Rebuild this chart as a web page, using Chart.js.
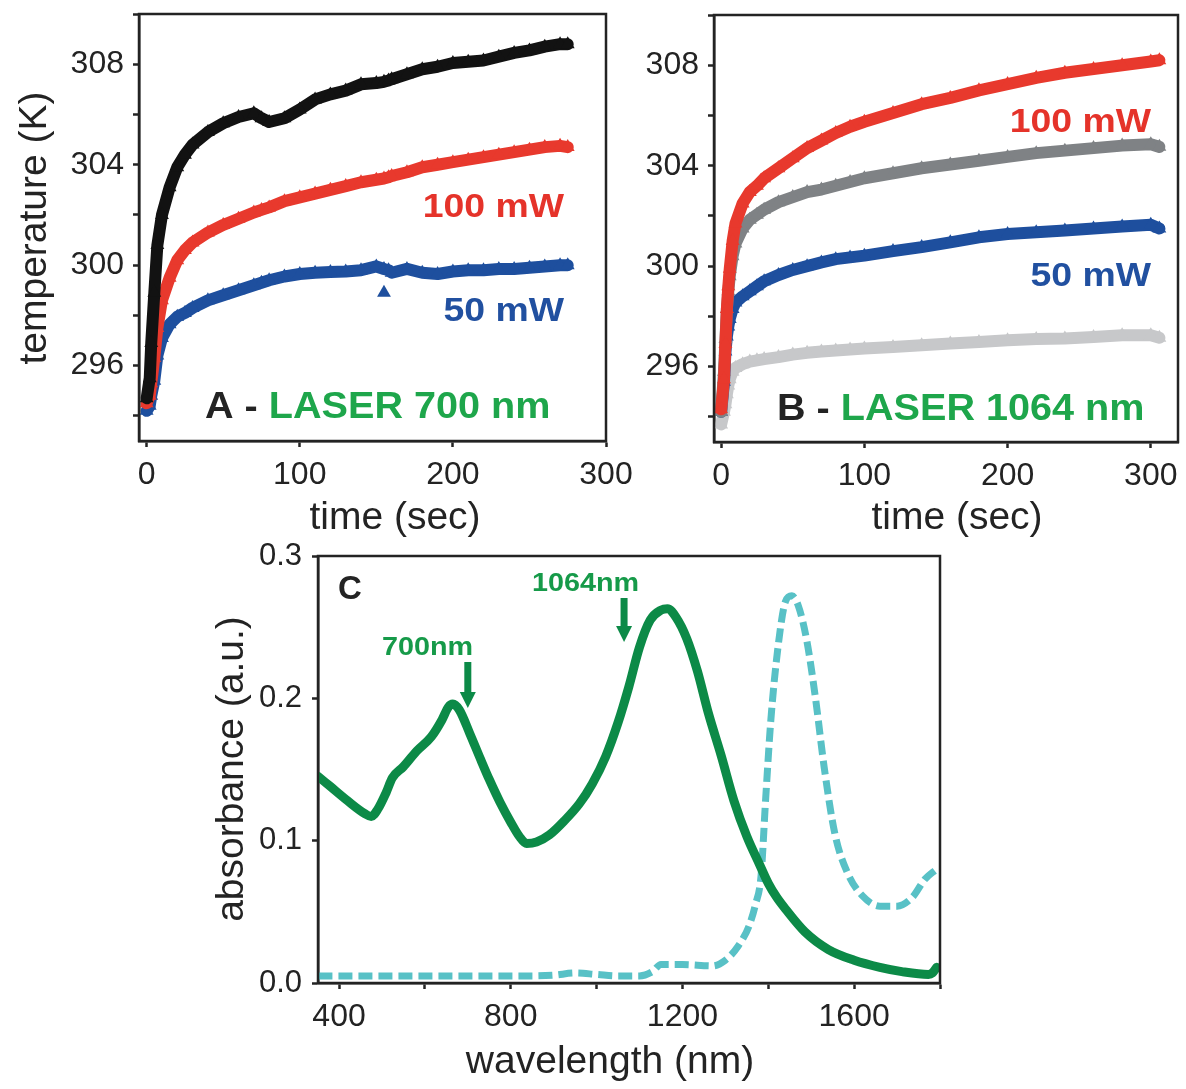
<!DOCTYPE html>
<html>
<head>
<meta charset="utf-8">
<script src="https://cdn.jsdelivr.net/npm/chart.js@4.4.1/dist/chart.umd.min.js"></script>
<style>
  html, body { margin: 0; padding: 0; background: #ffffff; }
  body { width: 1186px; height: 1089px; position: relative; overflow: hidden; }
  canvas { position: absolute; }
  #panelA { left: 0px; top: 0px; }
  #panelB { left: 620px; top: 0px; }
  #panelC { left: 180px; top: 540px; }
</style>
</head>
<body>
<canvas id="panelA" width="640" height="540"></canvas>
<canvas id="panelB" width="566" height="540"></canvas>
<canvas id="panelC" width="780" height="549"></canvas>
<script>
// ---- Panel A: heating under the 700 nm laser (time in s, temperature in K)
const timeA = [0, 2, 3, 5, 7, 10, 15, 20, 25, 30, 40, 50, 60, 70, 75, 80, 90, 100, 110, 120,
  130, 140, 150, 155, 158, 160, 170, 180, 190, 200, 210, 220, 230, 240, 250, 260, 270, 275];
const blackA = [294.7, 295.5, 296.9, 298.9, 300.8, 302.0, 303.1, 303.9, 304.4, 304.8, 305.3, 305.65,
  305.9, 306.05, 305.85, 305.7, 305.85, 306.2, 306.6, 306.8, 306.95, 307.2, 307.25, 307.3, 307.35,
  307.4, 307.6, 307.8, 307.9, 308.05, 308.1, 308.15, 308.3, 308.45, 308.55, 308.7, 308.8, 308.8];
const redA = [294.5, 294.8, 295.3, 296.3, 297.5, 298.6, 299.5, 300.2, 300.6, 300.9, 301.3, 301.6,
  301.85, 302.1, 302.2, 302.3, 302.55, 302.7, 302.85, 303.0, 303.15, 303.3, 303.4, 303.45, 303.5,
  303.55, 303.7, 303.9, 304.0, 304.1, 304.2, 304.3, 304.4, 304.5, 304.6, 304.7, 304.75, 304.7];
const blueA = [294.2, 294.4, 294.8, 295.4, 296.4, 297.1, 297.65, 297.95, 298.1, 298.3, 298.6, 298.8,
  299.0, 299.2, 299.3, 299.4, 299.55, 299.65, 299.7, 299.73, 299.75, 299.8, 299.95, 299.85, 299.8,
  299.7, 299.85, 299.7, 299.65, 299.75, 299.8, 299.8, 299.85, 299.85, 299.9, 299.95, 300.0, 300.0];
const blueAStrayTime = [155];
const blueAStrayTemp = [298.9];

// ---- Panel B: heating under the 1064 nm laser
const timeB = [0, 2, 3, 4, 5, 6, 8, 10, 15, 20, 25, 30, 40, 50, 60, 70, 80, 90, 100, 120,
  140, 160, 180, 200, 220, 240, 260, 280, 300, 306];
const redB = [294.3, 295.5, 296.9, 298.3, 299.2, 299.9, 301.0, 301.7, 302.5, 302.95, 303.2, 303.5,
  303.9, 304.3, 304.7, 305.0, 305.3, 305.55, 305.75, 306.1, 306.45, 306.7, 307.0, 307.25, 307.5,
  307.7, 307.85, 308.0, 308.15, 308.2];
const grayB = [294.2, 295.8, 297.1, 298.3, 299.0, 299.6, 300.4, 300.9, 301.5, 301.85, 302.05, 302.25,
  302.55, 302.75, 302.95, 303.05, 303.2, 303.35, 303.5, 303.7, 303.9, 304.05, 304.2, 304.35, 304.5,
  304.6, 304.7, 304.8, 304.85, 304.75];
const blueB = [294.2, 295.4, 296.6, 297.2, 297.6, 297.9, 298.3, 298.55, 298.8, 299.0, 299.2, 299.4,
  299.65, 299.85, 300.0, 300.15, 300.28, 300.35, 300.42, 300.6, 300.76, 300.95, 301.15, 301.28,
  301.35, 301.42, 301.5, 301.58, 301.65, 301.5];
const lightGrayB = [293.7, 294.2, 294.5, 294.9, 295.25, 295.5, 295.8, 295.95, 296.1, 296.2, 296.25,
  296.3, 296.38, 296.48, 296.55, 296.6, 296.64, 296.68, 296.72, 296.78, 296.85, 296.92, 296.98,
  297.05, 297.1, 297.12, 297.18, 297.25, 297.25, 297.15];

// ---- Panel C: absorbance spectra (wavelength in nm)
const wlGreen = [352, 380, 420, 460, 475, 490, 510, 524, 550, 581, 615, 640, 655, 665, 680, 705,
  730, 750, 775, 800, 820, 837, 860, 890, 925, 960, 990, 1021, 1050, 1075, 1100, 1125, 1150, 1165,
  1185, 1210, 1235, 1260, 1290, 1320, 1350, 1380, 1400, 1420, 1440, 1485, 1540, 1600, 1660, 1711,
  1773, 1782, 1792];
const absGreen = [0.145, 0.138, 0.128, 0.119, 0.117, 0.122, 0.134, 0.144, 0.152, 0.163, 0.173, 0.185,
  0.194, 0.196, 0.192, 0.175, 0.157, 0.143, 0.127, 0.113, 0.103, 0.098, 0.099, 0.104, 0.114, 0.126,
  0.140, 0.159, 0.183, 0.208, 0.236, 0.255, 0.262, 0.263, 0.257, 0.242, 0.219, 0.190, 0.160, 0.128,
  0.103, 0.083, 0.070, 0.060, 0.052, 0.036, 0.0235, 0.016, 0.011, 0.008, 0.006, 0.007, 0.011];
const wlCyan = [352, 450, 550, 650, 750, 850, 900, 950, 1000, 1050, 1100, 1130, 1150, 1200, 1270,
  1300, 1330, 1355, 1370, 1383, 1394, 1406, 1423, 1440, 1455, 1470, 1490, 1510, 1530, 1555, 1585,
  1620, 1660, 1700, 1735, 1765, 1792];
const absCyan = [0.005, 0.005, 0.005, 0.005, 0.005, 0.005, 0.0055, 0.007, 0.006, 0.005, 0.005, 0.008,
  0.013, 0.013, 0.012, 0.016, 0.026, 0.040, 0.055, 0.075, 0.130, 0.185, 0.237, 0.268, 0.272, 0.265,
  0.240, 0.200, 0.152, 0.105, 0.077, 0.061, 0.054, 0.054, 0.060, 0.073, 0.080];
const laserLines = [700, 1064];

// ---- axis ticks and the ones that carry a label
const tempTicks = [294, 296, 298, 300, 302, 304, 306, 308, 310];
const tempTickLabels = [296, 300, 304, 308];
const timeTicks = [0, 100, 200, 300];
const wlTicks = [400, 600, 800, 1000, 1200, 1400, 1600, 1800];
const wlTickLabels = [400, 800, 1200, 1600];
const absTicks = [0.0, 0.1, 0.2, 0.3];

const FONT = "'Liberation Sans', Arial, Helvetica, sans-serif";
const INK = '#232323';
const GREEN_TXT = '#1ea64b';

const pts = (xs, ys) => xs.map((x, i) => ({ x: x, y: ys[i] }));

// Box around the plotting area
const frame = {
  id: 'frame',
  afterDraw(chart) {
    const { ctx, chartArea: a } = chart;
    ctx.save();
    ctx.strokeStyle = INK;
    ctx.lineWidth = 2.5;
    ctx.strokeRect(a.left, a.top, a.right - a.left, a.bottom - a.top);
    ctx.restore();
  }
};

// Free text (axis titles, curve labels, panel captions)
const panelText = {
  id: 'panelText',
  afterDraw(chart, args, opts) {
    const ctx = chart.ctx;
    (opts.items || []).forEach(it => {
      ctx.save();
      ctx.font = it.font;
      ctx.textBaseline = it.baseline || 'alphabetic';
      ctx.textAlign = 'left';
      ctx.translate(it.x, it.y);
      if (it.rotate) ctx.rotate(it.rotate);
      ctx.scale(it.sx || 1, 1);
      const total = it.parts.reduce((w, p) => w + ctx.measureText(p[0]).width, 0);
      let x0 = it.align === 'right' ? -total : it.align === 'center' ? -total / 2 : 0;
      it.parts.forEach(p => {
        ctx.fillStyle = p[1];
        ctx.fillText(p[0], x0, 0);
        x0 += ctx.measureText(p[0]).width;
      });
      ctx.restore();
    });
  }
};

// Downward arrows marking the laser wavelengths
const laserArrows = {
  id: 'laserArrows',
  afterDatasetsDraw(chart, args, opts) {
    const { ctx, chartArea: a, scales } = chart;
    (opts.arrows || []).forEach(ar => {
      const x = scales.x.getPixelForValue(ar.value);
      const y0 = a.top + ar.from, y1 = a.top + ar.to;
      const head = 16, half = 8;
      ctx.save();
      ctx.fillStyle = opts.color;
      ctx.fillRect(x - 3.5, y0, 7, (y1 - head) - y0 + 1);
      ctx.beginPath();
      ctx.moveTo(x - half, y1 - head);
      ctx.lineTo(x + half, y1 - head);
      ctx.lineTo(x, y1);
      ctx.closePath();
      ctx.fill();
      ctx.restore();
    });
  }
};

function axisCommon(extra) {
  return Object.assign({
    type: 'linear',
    border: { display: true, color: INK, width: 2.5 },
    grid: { drawOnChartArea: false, drawTicks: true, tickLength: 6, tickWidth: 2.5, color: INK },
  }, extra);
}

function tempAxis(width) {
  return axisCommon({
    min: 293, max: 310,
    afterBuildTicks(s) { s.ticks = tempTicks.map(v => ({ value: v })); },
    afterFit(s) { s.width = width; s.paddingTop = 0; s.paddingBottom = 0; },
    ticks: {
      autoSkip: false, padding: 9,
      color: INK, font: { family: FONT, size: 32 },
      callback: v => tempTickLabels.includes(v) ? String(v) : ''
    }
  });
}

function timeAxis(min, max, height) {
  return axisCommon({
    min: min, max: max,
    afterBuildTicks(s) { s.ticks = timeTicks.map(v => ({ value: v })); },
    afterFit(s) { s.height = height; s.paddingLeft = 0; s.paddingRight = 0; },
    ticks: {
      autoSkip: false, maxRotation: 0, padding: 9,
      color: INK, font: { family: FONT, size: 32 },
      callback: v => String(v)
    }
  });
}

function band(label, xs, ys, color) {
  return {
    label: label, data: pts(xs, ys), showLine: true,
    borderColor: color, backgroundColor: color, borderWidth: 12,
    borderJoinStyle: 'round', borderCapStyle: 'round',
    pointStyle: 'triangle', pointRadius: 8, pointBorderWidth: 0, pointHoverRadius: 8,
    tension: 0
  };
}

const baseOpts = {
  responsive: false, animation: false, devicePixelRatio: 1,
  events: [],
};

// ---------- Panel A
new Chart(document.getElementById('panelA'), {
  type: 'scatter',
  data: {
    datasets: [
      band('trace 1', timeA, blackA, '#121212'),
      band('100 mW', timeA, redA, '#e8392d'),
      band('50 mW', timeA, blueA, '#1e4f9e'),
      Object.assign(band('50 mW stray', blueAStrayTime, blueAStrayTemp, '#1e4f9e'), { showLine: false })
    ]
  },
  options: Object.assign({}, baseOpts, {
    layout: { padding: { top: 14, right: 34, left: 0, bottom: 0 } },
    scales: { x: timeAxis(-5, 300, 99), y: tempAxis(139) },
    plugins: {
      legend: { display: false }, tooltip: { enabled: false },
      panelText: { items: [
        { parts: [['temperature (K)', INK]], font: `39px ${FONT}`, x: 35, y: 228, rotate: -Math.PI / 2, align: 'center', baseline: 'middle' },
        { parts: [['time (sec)', INK]], font: `39px ${FONT}`, x: 395, y: 518, align: 'center', baseline: 'middle' },
        { parts: [['100 mW', '#e5332a']], font: `bold 34px ${FONT}`, sx: 1.1, x: 564, y: 217, align: 'right' },
        { parts: [['50 mW', '#2150a0']], font: `bold 34px ${FONT}`, sx: 1.1, x: 564, y: 321, align: 'right' },
        { parts: [['A - ', INK], ['LASER 700 nm', GREEN_TXT]], font: `bold 36px ${FONT}`, sx: 1.1, x: 205, y: 418 }
      ] }
    }
  }),
  plugins: [frame, panelText]
});

// ---------- Panel B
new Chart(document.getElementById('panelB'), {
  type: 'scatter',
  data: {
    datasets: [
      band('100 mW', timeB, redB, '#e8392d'),
      band('trace 2', timeB, grayB, '#7f8285'),
      band('50 mW', timeB, blueB, '#1e4f9e'),
      band('trace 4', timeB, lightGrayB, '#c7c8ca')
    ]
  },
  options: Object.assign({}, baseOpts, {
    layout: { padding: { top: 15, right: 5, left: 0, bottom: 0 } },
    scales: { x: timeAxis(-5, 319, 98), y: tempAxis(94) },
    plugins: {
      legend: { display: false }, tooltip: { enabled: false },
      panelText: { items: [
        { parts: [['time (sec)', INK]], font: `39px ${FONT}`, x: 337, y: 518, align: 'center', baseline: 'middle' },
        { parts: [['100 mW', '#e5332a']], font: `bold 34px ${FONT}`, sx: 1.1, x: 531, y: 132, align: 'right' },
        { parts: [['50 mW', '#2150a0']], font: `bold 34px ${FONT}`, sx: 1.1, x: 531, y: 286, align: 'right' },
        { parts: [['B - ', INK], ['LASER 1064 nm', GREEN_TXT]], font: `bold 36px ${FONT}`, sx: 1.1, x: 157, y: 420 }
      ] }
    }
  }),
  plugins: [frame, panelText]
});

// ---------- Panel C
new Chart(document.getElementById('panelC'), {
  type: 'scatter',
  data: {
    datasets: [
      { label: 'absorbance', data: pts(wlGreen, absGreen), showLine: true, borderColor: '#0c8a47',
        borderWidth: 9, pointRadius: 0, tension: 0.35, cubicInterpolationMode: 'monotone',
        borderJoinStyle: 'round', borderCapStyle: 'round' },
      { label: 'reference', data: pts(wlCyan, absCyan), showLine: true, borderColor: '#58c1c6',
        borderWidth: 7, borderDash: [14, 6], pointRadius: 0, tension: 0.3,
        cubicInterpolationMode: 'monotone', borderCapStyle: 'butt' }
    ]
  },
  options: Object.assign({}, baseOpts, {
    layout: { padding: { top: 16, right: 20, left: 0, bottom: 0 } },
    scales: {
      x: axisCommon({
        min: 351, max: 1800,
        afterBuildTicks(s) { s.ticks = wlTicks.map(v => ({ value: v })); },
        afterFit(s) { s.height = 106; s.paddingLeft = 0; s.paddingRight = 0; },
        ticks: {
          autoSkip: false, maxRotation: 0, padding: 9,
          color: INK, font: { family: FONT, size: 32 },
          callback: v => wlTickLabels.includes(v) ? String(v) : ''
        }
      }),
      y: axisCommon({
        min: 0, max: 0.3,
        afterBuildTicks(s) { s.ticks = absTicks.map(v => ({ value: v })); },
        afterFit(s) { s.width = 138; s.paddingTop = 0; s.paddingBottom = 0; },
        ticks: {
          autoSkip: false, padding: 10,
          color: INK, font: { family: FONT, size: 31 },
          callback: v => v.toFixed(1)
        }
      })
    },
    plugins: {
      legend: { display: false }, tooltip: { enabled: false },
      laserArrows: { color: '#0c8a47', arrows: [
        { value: laserLines[0], from: 106, to: 152 },
        { value: laserLines[1], from: 42, to: 86 }
      ] },
      panelText: { items: [
        { parts: [['absorbance (a.u.)', INK]], font: `39px ${FONT}`, x: 52, y: 229, rotate: -Math.PI / 2, align: 'center', baseline: 'middle' },
        { parts: [['wavelength (nm)', INK]], font: `39px ${FONT}`, x: 430, y: 522, align: 'center', baseline: 'middle' },
        { parts: [['C', INK]], font: `bold 33px ${FONT}`, x: 158, y: 59 },
        { parts: [['700nm', '#169a49']], font: `bold 25px ${FONT}`, sx: 1.15, x: 202, y: 115 },
        { parts: [['1064nm', '#169a49']], font: `bold 25px ${FONT}`, sx: 1.15, x: 352, y: 51 }
      ] }
    }
  }),
  plugins: [frame, panelText, laserArrows]
});
</script>
</body>
</html>
